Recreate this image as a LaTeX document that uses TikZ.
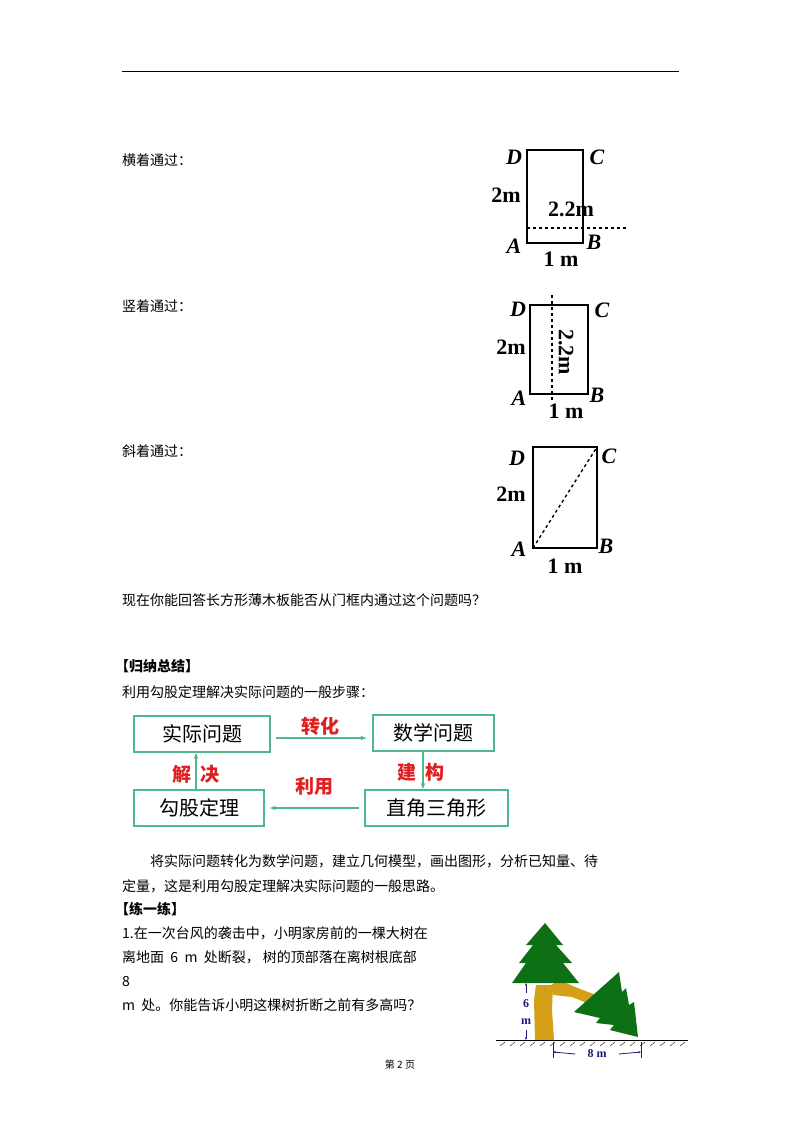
\documentclass[tikz,border=0pt]{standalone}
\usepackage{fontspec}
\setmainfont{Liberation Serif}
\newfontfamily\cjk{Noto Sans CJK SC}
\usetikzlibrary{arrows.meta,calc}
\definecolor{boxg}{HTML}{4DB88A}
\definecolor{redt}{HTML}{E02020}
\definecolor{treeg}{HTML}{0E7014}
\definecolor{trunk}{HTML}{D4A017}
\definecolor{navy}{HTML}{1A1A80}
\begin{document}
\begin{tikzpicture}[x=1pt,y=-1pt,
  txt/.style={anchor=west,inner sep=0,font=\cjk\fontsize{14}{16}\selectfont},
  lab/.style={inner sep=0,font=\fontsize{22}{22}\selectfont\bfseries},
  labi/.style={inner sep=0,font=\fontsize{22}{22}\selectfont\bfseries\itshape},
  fbox/.style={draw=boxg,line width=2pt,minimum height=36pt,font=\cjk\fontsize{20}{20}\selectfont,inner sep=0},
  rl/.style={inner sep=0,text=redt,font=\cjk\bfseries\fontsize{19}{19}\selectfont},
  garr/.style={draw=boxg,line width=1.5pt,-{Stealth[length=6pt]}},
  dim/.style={navy,line width=0.8pt}]
\useasboundingbox[fill=white] (0,0) rectangle (800,1132);
\draw[line width=1pt] (122,72) -- (679,72);
% texts
\node[txt] (t1) at (122,160) {横着通过：};
\node[txt] (t2) at (122,306) {竖着通过：};
\node[txt] (t3) at (122,451) {斜着通过：};
\node[txt] (t4) at (122,600) {现在你能回答长方形薄木板能否从门框内通过这个问题吗？};
\node[txt,font=\cjk\bfseries\fontsize{14}{16}\selectfont] (t5) at (115,666) {【归纳总结】};
\node[txt] (t6) at (122,692) {利用勾股定理解决实际问题的一般步骤：};
\node[txt] (t7) at (150,861) {将实际问题转化为数学问题，建立几何模型，画出图形，分析已知量、待};
\node[txt] (t8) at (122,886) {定量，这是利用勾股定理解决实际问题的一般思路。};
\node[txt,font=\cjk\bfseries\fontsize{14}{16}\selectfont] (t9) at (115,909) {【练一练】};
\node[txt] (p1) at (122,933) {1.在一次台风的袭击中，小明家房前的一棵大树在};
\node[txt] (p2) at (122,957) {离地面\ \ 6\ \ m\ \ 处断裂，\ 树的顶部落在离树根底部};
\node[txt] (p3) at (122,981) {8};
\node[txt] (p4) at (122,1005) {m\ \ 处。你能告诉小明这棵树折断之前有多高吗？};
\node[inner sep=0,font=\cjk\fontsize{10}{10}\selectfont] (ft) at (400,1065) {第\ 2\ 页};
% figure 1
\draw[line width=1.6pt] (527,150) rectangle (583,243);
\draw[dashed,line width=1.4pt] (527,228) -- (628,228);
\node[labi] (d1) at (514,157) {D};
\node[labi] (c1) at (597,157) {C};
\node[lab] (m1) at (506,195) {2m};
\node[lab] (l1) at (571,209) {2.2m};
\node[labi] (a1) at (514,246) {A};
\node[labi] (b1) at (594,242) {B};
\node[lab] (w1) at (561,259) {1 m};
% figure 2
\draw[line width=1.6pt] (530,305) rectangle (588,394);
\draw[dashed,line width=1.4pt] (552,295) -- (552,400);
\node[labi] (d2) at (518,309) {D};
\node[labi] (c2) at (602,310) {C};
\node[lab] (m2) at (511,347) {2m};
\node[lab,rotate=-90] (l2) at (566,352) {2.2m};
\node[labi] (a2) at (519,398) {A};
\node[labi] (b2) at (597,395) {B};
\node[lab] (w2) at (566,411) {1 m};
% figure 3
\draw[line width=1.6pt] (533,447) rectangle (597,548);
\draw[dashed,line width=1.4pt] (533,548) -- (597,447);
\node[labi] (d3) at (517,458) {D};
\node[labi] (c3) at (609,456) {C};
\node[lab] (m3) at (511,494) {2m};
\node[labi] (a3) at (519,549) {A};
\node[labi] (b3) at (606,546) {B};
\node[lab] (w3) at (565,566) {1 m};
% flowchart
\node[fbox,minimum width=136pt] (f1) at (202,734) {实际问题};
\node[fbox,minimum width=121pt] (f2) at (433,733) {数学问题};
\node[fbox,minimum width=130pt] (f3) at (199,808) {勾股定理};
\node[fbox,minimum width=143pt] (f4) at (436,808) {直角三角形};
\draw[garr] ($(f1.east)+(5,4)$) -- ($(f2.west)+(-5,5)$);
\draw[garr] (f2.south -| 423,0) -- (f4.north -| 423,0);
\draw[garr] ($(f4.west)+(-5,0)$) -- ($(f3.east)+(5,0)$);
\draw[garr] (f3.north -| 196,0) -- (f1.south -| 196,0);
\node[rl] (r1) at (320,726) {转化};
\node[rl] (r2) at (421,772) {建\ \ 构};
\node[rl] (r3) at (314,786) {利用};
\node[rl] (r4) at (196,774) {解\ \ 决};
% tree
\fill[trunk] (535,1040) -- (534,1000) -- (536,985) -- (553,985) -- (552,1010) -- (554,1040) -- cycle;
\fill[trunk] (551,985) -- (560,980) -- (575,987) -- (596,995) -- (592,1005) -- (572,997) -- (553,995) -- cycle;
\fill[treeg] (545,923) -- (563,945) -- (556,945) -- (572,963) -- (563,963) -- (579,983) -- (512,983) -- (526,963) -- (519,963) -- (533,945) -- (526,945) -- cycle;
\fill[treeg] (574,1012) -- (619,972) -- (622,992) -- (626,988) -- (629,1005) -- (634,1002) -- (638,1037) -- (610,1030) -- (614,1025) -- (596,1023) -- (600,1018) -- cycle;
\draw[line width=1pt] (496,1040) -- (688,1040);
\foreach \x in {500,510,...,680} \draw[line width=0.4pt] (\x,1046) -- (\x+5,1042);
\draw[dim,-{Stealth[length=3pt]}] (526,993) -- (526,983);
\draw[dim,-{Stealth[length=3pt]}] (526,1030) -- (526,1040);
\node[inner sep=0,text=navy,font=\bfseries\fontsize{12}{12}\selectfont] (six) at (526,1004) {6};
\node[inner sep=0,text=navy,font=\bfseries\fontsize{12}{12}\selectfont] (sixm) at (526,1022) {m};
\draw[dim] (553,1042) -- (553,1058);
\draw[dim] (641,1042) -- (641,1058);
\node[inner sep=0,text=navy,font=\bfseries\fontsize{12}{12}\selectfont] (eight) at (597,1054) {8 m};
\draw[dim,-{Stealth[length=3pt]}] ($(eight.west)+(-12,0)$) -- (553,1052);
\draw[dim,-{Stealth[length=3pt]}] ($(eight.east)+(12,0)$) -- (641,1052);
\end{tikzpicture}
\end{document}
